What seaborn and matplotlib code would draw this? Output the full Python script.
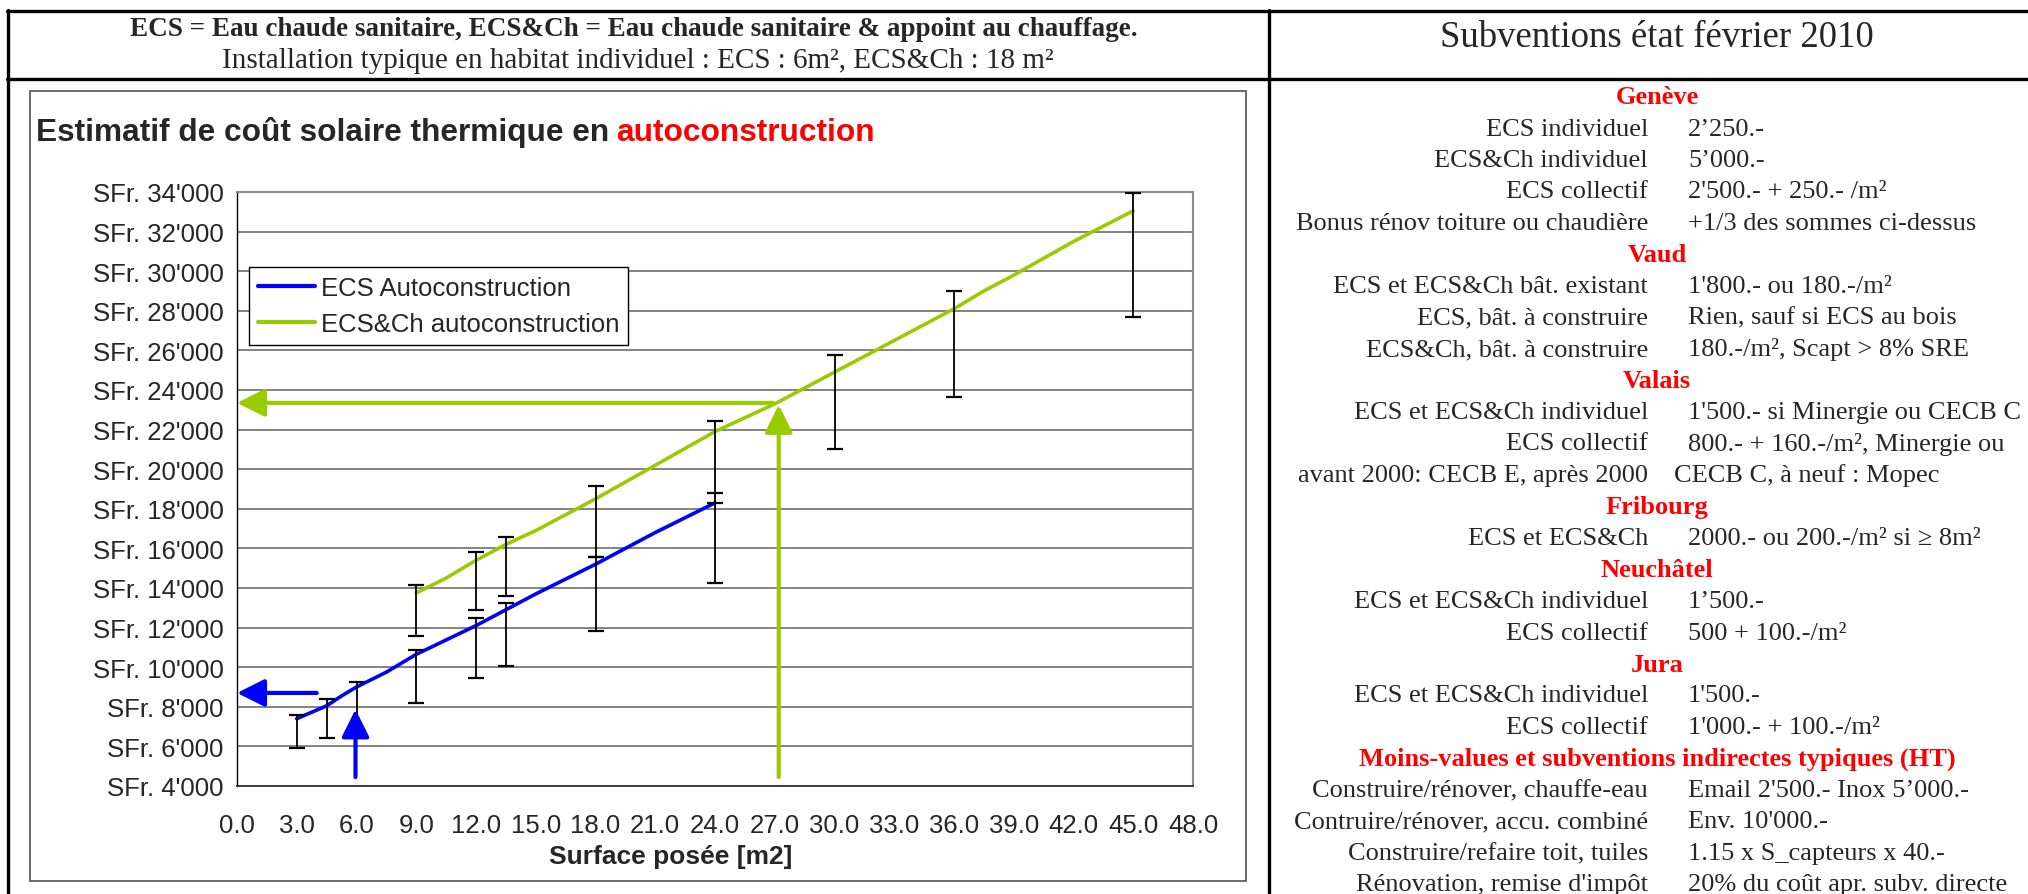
import numpy as np
import pandas as pd
import seaborn as sns
import matplotlib.pyplot as plt
from matplotlib.lines import Line2D
from matplotlib.patches import Rectangle
from matplotlib.ticker import FuncFormatter, MultipleLocator

# Cost curves (surface in m2, cost in SFr.)
ecs_surface = [3, 4.5, 5.25, 6, 7.5, 9, 12, 12.75, 13.5, 15, 18, 21, 24]
ecs_cost = [7400, 8050, 8550, 9000, 9750, 10650, 12100, 12500, 12900, 13700, 15200, 16800, 18300]
ch_surface = [9, 10.5, 12, 13.5, 15, 18, 21, 24, 27, 30, 33, 36, 37.5, 39, 42, 45]
ch_cost = [13750, 14500, 15400, 16200, 16900, 18500, 20200, 21900, 23300, 24900, 26500, 28100, 29000, 29800, 31500, 33050]

# price ranges (error bars)
ecs_err_surface = [3, 4.5, 6, 9, 12, 13.5, 18, 24]
ecs_err_high = [7600, 8400, 9250, 10850, 12500, 13250, 15570, 18790]
ecs_err_low = [5900, 6400, 6900, 8200, 9450, 10050, 11850, 14250]
ch_err_surface = [9, 12, 13.5, 18, 24, 30, 36, 45]
ch_err_high = [14170, 15800, 16575, 19130, 22430, 25770, 29000, 33950]
ch_err_low = [11560, 12880, 13580, 15570, 18290, 21030, 23670, 27700]

# arrows marking the typical installations
ecs_arrow_x, ecs_arrow_y = 5.95, 8700
ecs_arrow_tail_x, ecs_arrow_tip_y = 4.0, 7870
ch_arrow_x, ch_arrow_y = 27.2, 23350
ch_arrow_tail_x, ch_arrow_tip_y = 26.9, 23250
arrow_base_y = 4450

# right hand table: (heading, left text, right text)
table_rows = [
    ("Genève", None, None),
    (None, "ECS individuel", "2’250.-"),
    (None, "ECS&Ch individuel", "5’000.-"),
    (None, "ECS collectif", "2'500.- + 250.- /m²"),
    (None, "Bonus rénov toiture ou chaudière", "+1/3 des sommes ci-dessus"),
    ("Vaud", None, None),
    (None, "ECS et ECS&Ch bât. existant", "1'800.- ou 180.-/m²"),
    (None, "ECS, bât. à construire", "Rien, sauf si ECS au bois"),
    (None, "ECS&Ch, bât. à construire", "180.-/m², Scapt > 8% SRE"),
    ("Valais", None, None),
    (None, "ECS et ECS&Ch individuel", "1'500.- si Minergie ou CECB C"),
    (None, "ECS collectif", "800.- + 160.-/m², Minergie ou"),
    (None, "avant 2000: CECB E, après 2000", "CECB C, à neuf : Mopec"),
    ("Fribourg", None, None),
    (None, "ECS et ECS&Ch", "2000.- ou 200.-/m² si ≥ 8m²"),
    ("Neuchâtel", None, None),
    (None, "ECS et ECS&Ch individuel", "1’500.-"),
    (None, "ECS collectif", "500 + 100.-/m²"),
    ("Jura", None, None),
    (None, "ECS et ECS&Ch individuel", "1'500.-"),
    (None, "ECS collectif", "1'000.- + 100.-/m²"),
    ("Moins-values et subventions indirectes typiques (HT)", None, None),
    (None, "Construire/rénover, chauffe-eau", "Email 2'500.- Inox 5’000.-"),
    (None, "Contruire/rénover, accu. combiné", "Env. 10'000.-"),
    (None, "Construire/refaire toit, tuiles", "1.15 x S_capteurs x 40.-"),
    (None, "Rénovation, remise d'impôt", "20% du coût apr. subv. directe"),
]

BLUE = '#0000FF'
GREEN = '#99CC00'
W, H = 2028, 895

sns.set_style('white')
plt.rcParams['font.family'] = ['Liberation Sans', 'DejaVu Sans']

fig = plt.figure(figsize=(W / 100, H / 100), dpi=100)


def fx(x):
    return x / W


def fy(y):
    return 1 - y / H


def hline(x0, x1, y, **kw):
    fig.add_artist(Line2D([fx(x0), fx(x1)], [fy(y), fy(y)], transform=fig.transFigure, **kw))


def vline(x, y0, y1, **kw):
    fig.add_artist(Line2D([fx(x), fx(x)], [fy(y0), fy(y1)], transform=fig.transFigure, **kw))


# frame of the page
hline(7, W, 12, color='black', lw=2.4)
hline(7, W, 80, color='black', lw=2.4)
vline(8, 11, H, color='black', lw=2.4)
vline(1269, 11, H, color='black', lw=2.4)
fig.add_artist(Rectangle((fx(30), fy(882)), fx(1246) - fx(30), fy(92) - fy(882),
                         transform=fig.transFigure, fill=False, ec='#505050', lw=1.2))

serif = ['Liberation Serif', 'DejaVu Serif']
fig.text(fx(634), fy(29), 'ECS = Eau chaude sanitaire, ECS&Ch = Eau chaude sanitaire & appoint au chauffage.',
         family=serif, fontsize=19.5, fontweight='bold', ha='center', va='center')
fig.text(fx(638), fy(61), 'Installation typique en habitat individuel : ECS : 6m², ECS&Ch : 18 m²',
         family=serif, fontsize=21, ha='center', va='center')
fig.text(fx(1657), fy(38), 'Subventions état février 2010', family=serif, fontsize=26.5,
         ha='center', va='center')

for i, (head, left, right) in enumerate(table_rows):
    y = 98 + i * 31.5
    if head:
        fig.text(fx(1657), fy(y), head, family=serif, fontsize=19, fontweight='bold',
                 color='#FF0000', ha='center', va='center')
    else:
        fig.text(fx(1648), fy(y), left, family=serif, fontsize=19, ha='right', va='center')
        xr = 1674 if left.startswith('avant') else 1688
        fig.text(fx(xr), fy(y), right, family=serif, fontsize=19, ha='left', va='center')

# chart title, black + red
t1 = fig.text(fx(36), fy(132), 'Estimatif de coût solaire thermique en', fontsize=22.8,
              fontweight='bold', ha='left', va='center')
fig.canvas.draw()
bb = t1.get_window_extent()
fig.text(bb.x1 / W + 7 / W, bb.y0 / H, 'autoconstruction', fontsize=22.8, fontweight='bold',
         color='#FF0000', ha='left', va='bottom')

# plot area
ax = fig.add_axes([fx(237), fy(787), (1193 - 237) / W, (787 - 193) / H])

ecs = pd.DataFrame({'surface': ecs_surface, 'cost': ecs_cost})
ch = pd.DataFrame({'surface': ch_surface, 'cost': ch_cost})
sns.lineplot(data=ecs, x='surface', y='cost', ax=ax, color=BLUE, lw=2.6,
             label='ECS Autoconstruction', zorder=3)
sns.lineplot(data=ch, x='surface', y='cost', ax=ax, color=GREEN, lw=2.6,
             label='ECS&Ch autoconstruction', zorder=3)

for xs, hi, lo in [(ecs_err_surface, ecs_err_high, ecs_err_low),
                   (ch_err_surface, ch_err_high, ch_err_low)]:
    hi = np.array(hi)
    lo = np.array(lo)
    ax.errorbar(xs, lo, yerr=[np.zeros(len(lo)), hi - lo], fmt='none', ecolor='black',
                elinewidth=1.3, capsize=5.5, capthick=1.6, zorder=4)

style = '-|>,head_length=1.2,head_width=0.6'
for color, tail, tip in [
    (BLUE, (ecs_arrow_tail_x, ecs_arrow_y), (0, ecs_arrow_y)),
    (BLUE, (ecs_arrow_x, arrow_base_y), (ecs_arrow_x, ecs_arrow_tip_y)),
    (GREEN, (ch_arrow_tail_x, ch_arrow_y), (0, ch_arrow_y)),
    (GREEN, (ch_arrow_x, arrow_base_y), (ch_arrow_x, ch_arrow_tip_y)),
]:
    ax.annotate('', xy=tip, xytext=tail, annotation_clip=False, zorder=5,
                arrowprops=dict(arrowstyle=style, mutation_scale=14, lw=3, color=color,
                                shrinkA=0, shrinkB=0))

ax.set_xlim(0, 48)
ax.set_ylim(4000, 34000)
ax.xaxis.set_major_locator(MultipleLocator(3))
ax.yaxis.set_major_locator(MultipleLocator(2000))
ax.xaxis.set_major_formatter(FuncFormatter(lambda v, p: f'{v:.1f}'))
ax.yaxis.set_major_formatter(FuncFormatter(lambda v, p: f"SFr. {v / 1000:.0f}'000"))
ax.tick_params(axis='both', labelsize=18.5, direction='out', length=5.5, width=1,
               color='black', pad=4)
ax.tick_params(axis='x', pad=14)
ax.grid(axis='y', color='#7a7a7a', lw=1.3)
ax.grid(axis='x', visible=False)
for side in ['top', 'right']:
    ax.spines[side].set_color('#8a8a8a')
    ax.spines[side].set_linewidth(1.5)
ax.spines['left'].set_color('black')
ax.spines['bottom'].set_color('#333333')
ax.spines['left'].set_linewidth(1)
ax.spines['bottom'].set_linewidth(1.3)

ax.set_ylabel('')
ax.set_xlabel('Surface posée [m2]', fontsize=19, fontweight='bold')
ax.xaxis.set_label_coords((671 - 237) / 956, -(857 - 787) / 594)
ax.xaxis.label.set_va('center')

leg = ax.legend(loc='upper left', bbox_to_anchor=(fx(249), fy(268)),
                bbox_transform=fig.transFigure, borderaxespad=0, fontsize=18.5,
                frameon=True, fancybox=False, edgecolor='black', framealpha=1,
                handlelength=2.2, handletextpad=0.25, labelspacing=0.45, borderpad=0.35)
leg.get_frame().set_linewidth(1)
for line in leg.get_lines():
    line.set_linewidth(3)

fig.savefig('out.png', dpi=100)
